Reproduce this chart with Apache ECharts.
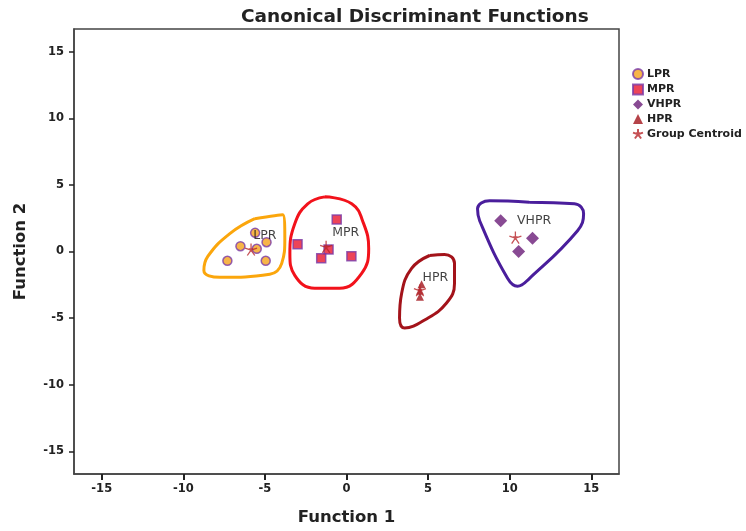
<!DOCTYPE html>
<html>
<head>
<meta charset="utf-8">
<script src="https://cdn.jsdelivr.net/npm/echarts@6/dist/echarts.min.js"></script>
<style>html,body{margin:0;padding:0;background:#fff}#c{width:746px;height:531px}</style>
</head>
<body>
<div id="c"></div>
<script>
// ---- data ----
const tickValues = [-15, -10, -5, 0, 5, 10, 15];
const lprPoints = [[-5.6, 1.4], [-6.5, 0.4], [-4.9, 0.7], [-5.5, 0.2], [-7.3, -0.7], [-4.95, -0.7]];
const mprPoints = [[-0.6, 2.4], [-3.0, 0.55], [-1.1, 0.15], [-1.55, -0.5], [0.3, -0.35]];
const vhprPoints = [[9.45, 2.3], [11.4, 1.0], [10.55, 0.0]];
const hprPoints = [[4.6, -2.45], [4.5, -2.95], [4.5, -3.4]];
const centroidPoints = [[-5.85, 0.15], [-1.25, 0.35], [10.35, 1.05], [4.5, -2.9]];
const groupLabels = [
  { name: 'LPR', value: [-5.0, 1.2] },
  { name: 'MPR', value: [-0.05, 1.4] },
  { name: 'VHPR', value: [11.5, 2.3] },
  { name: 'HPR', value: [5.45, -2.0] }
];
const lprHull = [[-5.62, 2.46], [-3.91, 2.76], [-3.78, 0.97], [-3.97, -0.89], [-4.70, -1.71], [-7.76, -1.94], [-8.74, -1.42], [-8.50, -0.37], [-7.15, 1.34], [-5.62, 2.46]];
const mprHull = [[-1.33, 4.10], [0.32, 3.58], [1.05, 2.09], [1.36, 0.22], [0.93, -1.64], [-0.42, -2.76], [-1.95, -2.76], [-3.17, -1.79], [-3.47, -0.15], [-3.17, 2.09], [-2.38, 3.58], [-1.33, 4.10]];
const hprHull = [[5.09, -0.30], [6.01, -0.22], [6.62, -0.89], [6.62, -2.38], [6.13, -3.87], [4.79, -5.14], [3.56, -5.74], [3.25, -4.99], [3.38, -3.13], [3.99, -1.27], [5.09, -0.30]];
const vhprHull = [[11.2, 3.7], [13.97, 3.58], [14.53, 2.83], [14.16, 1.56], [11.22, -2.01], [10.48, -2.61], [9.87, -2.01], [8.16, 2.31], [8.03, 3.20], [8.77, 3.80], [11.2, 3.7]];

const starPath = 'path://M0,-10 L0,0 M9.5,-3.1 L0,0 M5.9,8.1 L0,0 M-5.9,8.1 L0,0 M-9.5,-3.1 L0,0 M-3.5,-2 L3.5,-2 M-3.5,-2 L2.2,3 M3.5,-2 L-2.2,3';

const chart = echarts.init(document.getElementById('c'));
const font = 'DejaVu Sans, Liberation Sans, Arial, sans-serif';
function hull(data, color) {
  return { type: 'line', data: data, smooth: 0.45, symbol: 'none', silent: true,
    lineStyle: { color: color, width: 3 }, z: 1 };
}
chart.setOption({
  animation: false,
  textStyle: { fontFamily: font },
  title: { text: 'Canonical Discriminant Functions', left: 236, top: 3,
    textStyle: { fontSize: 18.5, fontWeight: 'bold', color: '#222', fontFamily: font } },
  grid: { left: 74, right: 127, top: 29, bottom: 55, show: true, borderColor: '#444', borderWidth: 1.5, backgroundColor: '#fff' },
  legend: {
    orient: 'vertical', left: 632, top: 68, padding: 0, itemWidth: 10, itemHeight: 10, itemGap: 3.5,
    textStyle: { fontSize: 11, fontWeight: 'bold', color: '#222', fontFamily: font, padding: [0, 0, 0, -1] },
    data: ['LPR', 'MPR', 'VHPR', 'HPR', 'Group Centroid']
  },
  xAxis: {
    type: 'value', min: -16.7, max: 16.7,
    name: 'Function 1', nameLocation: 'middle', nameGap: 35,
    nameTextStyle: { fontSize: 16.5, fontWeight: 'bold', color: '#222' },
    axisLine: { onZero: false, lineStyle: { color: '#444', width: 1.5 } },
    axisTick: { show: true, length: 6, lineStyle: { color: '#222', width: 2 }, customValues: tickValues },
    axisLabel: { fontSize: 11.5, color: '#222', fontWeight: 'bold', margin: 9, customValues: tickValues },
    splitLine: { show: false }
  },
  yAxis: {
    type: 'value', min: -16.7, max: 16.7,
    name: 'Function 2', nameLocation: 'middle', nameGap: 45, nameRotate: 90,
    nameTextStyle: { fontSize: 16.5, fontWeight: 'bold', color: '#222' },
    axisLine: { onZero: false, lineStyle: { color: '#444', width: 1.5 } },
    axisTick: { show: true, length: 5, lineStyle: { color: '#222', width: 1.5 }, customValues: tickValues },
    axisLabel: { fontSize: 11.5, color: '#222', fontWeight: 'bold', margin: 10, customValues: tickValues },
    splitLine: { show: false }
  },
  series: [
    hull(lprHull, '#FBA60C'),
    hull(mprHull, '#F2121B'),
    hull(hprHull, '#A3131A'),
    hull(vhprHull, '#4A1E9C'),
    { name: 'LPR', type: 'scatter', data: lprPoints, symbol: 'circle', symbolSize: 9, z: 3,
      itemStyle: { color: '#F5A31B', borderColor: '#7A3BA8', borderWidth: 1.5 } },
    { name: 'MPR', type: 'scatter', data: mprPoints, symbol: 'rect', symbolSize: 9, z: 3,
      itemStyle: { color: '#E8152E', borderColor: '#7A3BA8', borderWidth: 1.5 } },
    { name: 'VHPR', type: 'scatter', data: vhprPoints, symbol: 'diamond', symbolSize: 13, z: 3,
      itemStyle: { color: '#6A1D78' } },
    { name: 'HPR', type: 'scatter', data: hprPoints, symbol: 'triangle', symbolSize: 8, z: 3,
      itemStyle: { color: '#A3141C' } },
    { name: 'Group Centroid', type: 'scatter', data: centroidPoints, symbol: starPath, symbolSize: 12, z: 4,
      itemStyle: { color: 'rgba(0,0,0,0)', borderColor: '#B8262B', borderWidth: 1.3 } },
    { name: 'labels', type: 'scatter', data: groupLabels, symbolSize: 0, z: 5, silent: true,
      label: { show: true, position: 'inside', formatter: '{b}', fontSize: 12.5, color: '#111', fontFamily: font } }
  ]
});
</script>
</body>
</html>
